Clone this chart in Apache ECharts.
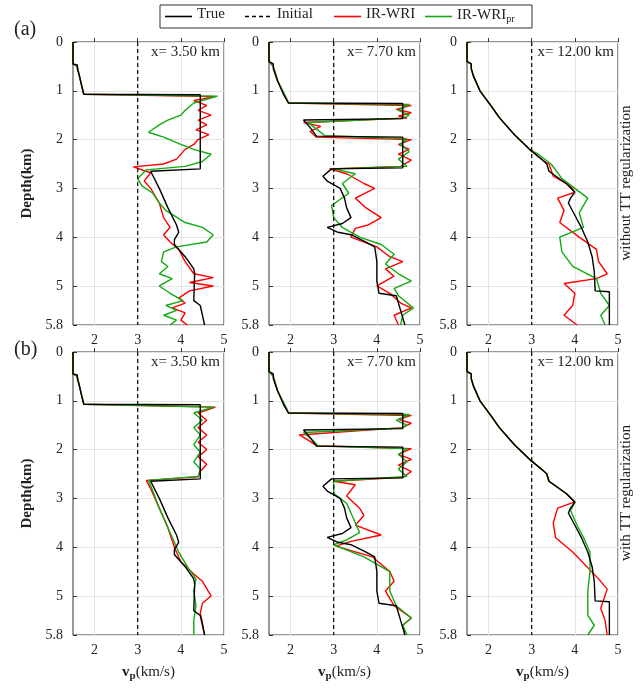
<!DOCTYPE html>
<html lang="en">
<head>
    <meta charset="UTF-8">
    <title>vp profiles</title>
    <script src="https://cdn.jsdelivr.net/npm/echarts@6/dist/echarts.min.js"></script>
</head>
<body style="margin:0;background:#fff">
    <div id="pic1" style="width:640px;height:689px;"></div>
    <script>
        // each profile is a list of [vp (km/s), depth (km)]
        var panelLabels = ['x= 3.50 km', 'x= 7.70 km', 'x= 12.00 km'];
        var vpTicks = [2, 3, 4, 5];
        var initialVp = 3;

        var trueA = [[1.5,0],[1.5,0.45],[1.6,0.47],[1.6,0.55],[1.65,0.7],[1.7,0.9],[1.75,1.07],[4.45,1.08],[4.45,2.6],[3.3,2.65],[3.5,3.0],[3.7,3.4],[3.9,3.75],[3.95,3.9],[3.85,4.05],[3.85,4.15],[4.1,4.4],[4.3,4.65],[4.32,4.75],[4.3,5.3],[4.45,5.4],[4.5,5.6],[4.55,5.8]];
        var trueB = [[1.5,0],[1.5,0.4],[1.6,0.45],[1.6,0.55],[1.7,0.8],[1.85,1.1],[1.95,1.25],[4.6,1.26],[4.6,1.57],[2.3,1.6],[2.45,1.75],[2.6,1.93],[4.6,1.95],[4.6,2.58],[2.95,2.6],[2.75,2.75],[2.85,2.85],[3.15,3.0],[3.25,3.2],[3.3,3.4],[3.4,3.6],[3.2,3.72],[2.85,3.8],[3.1,3.9],[3.4,3.95],[3.75,4.1],[3.95,4.2],[4.0,4.5],[4.0,4.9],[4.05,5.15],[4.45,5.2],[4.55,5.5],[4.65,5.8]];
        var trueC = [[1.5,0],[1.5,0.4],[1.6,0.45],[1.6,0.55],[1.65,0.7],[1.8,1.0],[2.05,1.3],[2.25,1.55],[2.6,1.9],[2.95,2.2],[3.25,2.42],[3.35,2.5],[3.4,2.65],[3.8,2.9],[4.0,3.08],[3.9,3.2],[3.85,3.3],[4.0,3.55],[4.15,3.8],[4.3,4.1],[4.4,4.4],[4.45,4.7],[4.47,5.1],[4.8,5.12],[4.8,5.8]];

        var redTopA = [[1.5,0],[1.5,0.45],[1.6,0.5],[1.65,0.7],[1.75,1.07],[4.8,1.12],[4.3,1.2],[4.6,1.3],[4.4,1.4],[4.7,1.5],[4.4,1.6],[4.6,1.7],[4.35,1.8],[4.65,1.9],[4.4,2.0],[4.3,2.1],[4.1,2.2],[3.9,2.4],[3.6,2.5],[2.9,2.56],[3.3,2.68],[3.15,2.85],[3.3,3.0],[3.5,3.3],[3.6,3.6],[3.75,3.8],[3.6,3.95],[3.75,4.1],[3.95,4.25],[4.1,4.5],[4.3,4.75],[4.75,4.83],[4.2,4.93],[4.75,5.0],[4.2,5.1],[3.95,5.25],[4.1,5.35],[3.8,5.45],[4.1,5.55],[4.0,5.7],[4.15,5.8]];
        var greenTopA = [[1.5,0],[1.5,0.45],[1.6,0.5],[1.65,0.7],[1.75,1.07],[4.85,1.11],[4.3,1.25],[4.1,1.4],[4.0,1.5],[3.7,1.6],[3.5,1.7],[3.25,1.85],[3.6,1.95],[4.0,2.1],[4.3,2.2],[4.7,2.3],[4.5,2.45],[4.1,2.55],[3.2,2.62],[3.0,2.8],[3.1,2.95],[3.35,3.1],[3.5,3.3],[3.65,3.45],[4.1,3.7],[4.5,3.8],[4.75,3.95],[4.6,4.1],[3.9,4.2],[3.6,4.3],[3.55,4.5],[3.7,4.6],[3.5,4.75],[3.8,4.85],[3.5,5.0],[3.75,5.15],[4.05,5.3],[3.65,5.4],[3.9,5.5],[3.6,5.6],[3.9,5.7],[3.75,5.8]];
        var redBotA = [[1.5,0],[1.5,0.45],[1.6,0.5],[1.65,0.7],[1.75,1.07],[4.8,1.13],[4.4,1.25],[4.6,1.4],[4.4,1.55],[4.6,1.7],[4.4,1.85],[4.6,2.0],[4.4,2.15],[4.6,2.3],[4.45,2.45],[4.4,2.56],[3.2,2.63],[3.3,2.8],[3.5,3.2],[3.7,3.6],[3.85,4.0],[4.0,4.3],[4.3,4.55],[4.5,4.7],[4.6,4.85],[4.7,5.0],[4.5,5.15],[4.45,5.35],[4.5,5.55],[4.55,5.8]];
        var greenBotA = [[1.5,0],[1.5,0.45],[1.6,0.5],[1.65,0.7],[1.75,1.07],[4.75,1.13],[4.3,1.25],[4.5,1.4],[4.3,1.55],[4.45,1.7],[4.3,1.9],[4.45,2.05],[4.3,2.25],[4.45,2.4],[4.4,2.55],[3.25,2.63],[3.35,2.85],[3.5,3.2],[3.65,3.5],[3.8,3.8],[3.95,4.1],[4.15,4.4],[4.35,4.65],[4.3,4.9],[4.35,5.2],[4.3,5.5],[4.3,5.8]];

        var redTopB = [[1.5,0],[1.5,0.4],[1.6,0.5],[1.7,0.8],[1.9,1.15],[1.95,1.25],[4.8,1.3],[4.45,1.38],[4.8,1.45],[4.5,1.52],[4.7,1.56],[2.3,1.65],[2.7,1.73],[2.45,1.83],[2.6,1.95],[4.8,2.0],[4.5,2.1],[4.75,2.2],[4.5,2.3],[4.8,2.42],[4.55,2.55],[2.9,2.6],[3.3,2.7],[3.7,2.9],[3.95,3.0],[3.5,3.2],[3.75,3.4],[4.1,3.6],[3.8,3.75],[3.5,3.82],[3.4,4.0],[4.0,4.2],[4.3,4.4],[4.6,4.5],[4.2,4.65],[4.4,4.8],[4.0,5.0],[4.3,5.15],[4.55,5.35],[4.8,5.45],[4.4,5.6],[4.5,5.8]];
        var greenTopB = [[1.5,0],[1.5,0.4],[1.6,0.5],[1.7,0.8],[1.9,1.15],[1.95,1.25],[4.75,1.28],[4.5,1.4],[4.75,1.5],[4.6,1.56],[2.4,1.65],[2.55,1.75],[2.8,1.92],[4.7,1.98],[4.55,2.1],[4.75,2.25],[4.5,2.4],[4.7,2.55],[3.0,2.6],[3.5,2.7],[3.2,2.9],[3.35,3.1],[2.95,3.35],[3.0,3.6],[3.2,3.8],[3.6,4.0],[4.1,4.15],[4.4,4.35],[4.2,4.55],[4.5,4.75],[4.8,4.9],[4.4,5.05],[4.5,5.2],[4.85,5.45],[4.6,5.6],[4.55,5.8]];
        var redBotB = [[1.5,0],[1.5,0.4],[1.6,0.5],[1.7,0.8],[1.9,1.15],[1.95,1.25],[4.8,1.3],[4.5,1.38],[4.8,1.46],[4.6,1.55],[2.2,1.7],[2.4,1.8],[2.6,1.92],[4.8,1.98],[4.5,2.1],[4.8,2.2],[4.5,2.32],[4.8,2.45],[4.6,2.57],[3.0,2.65],[3.5,2.72],[3.3,2.95],[3.6,3.2],[3.7,3.35],[3.5,3.55],[4.1,3.75],[3.4,3.88],[3.05,3.98],[3.9,4.2],[4.3,4.5],[4.4,4.7],[4.2,4.9],[4.4,5.2],[4.8,5.45],[4.6,5.6],[4.65,5.8]];
        var greenBotB = [[1.5,0],[1.5,0.4],[1.6,0.5],[1.7,0.8],[1.9,1.15],[1.95,1.25],[4.75,1.28],[4.45,1.4],[4.7,1.5],[4.55,1.56],[2.3,1.65],[2.5,1.8],[2.65,1.93],[4.7,1.98],[4.5,2.1],[4.7,2.25],[4.5,2.4],[4.7,2.55],[3.0,2.65],[3.0,2.9],[3.3,3.1],[3.5,3.5],[3.6,3.7],[3.3,3.85],[3.0,3.95],[3.7,4.2],[4.3,4.5],[4.3,4.9],[4.45,5.2],[4.8,5.45],[4.6,5.6],[4.7,5.8]];

        var redTopC = [[1.5,0],[1.5,0.4],[1.6,0.45],[1.6,0.55],[1.65,0.7],[1.8,1.0],[2.05,1.3],[2.25,1.55],[2.6,1.9],[2.95,2.2],[3.25,2.42],[3.4,2.5],[3.5,2.75],[3.9,2.95],[4.0,3.08],[3.6,3.2],[3.75,3.45],[3.65,3.7],[4.1,4.0],[4.5,4.25],[4.55,4.5],[4.75,4.75],[4.5,4.85],[3.75,4.95],[4.0,5.15],[3.95,5.4],[3.75,5.6],[4.05,5.8]];
        var greenTopC = [[1.5,0],[1.5,0.4],[1.6,0.45],[1.6,0.55],[1.65,0.7],[1.8,1.0],[2.05,1.3],[2.25,1.55],[2.6,1.9],[2.95,2.2],[3.15,2.3],[3.45,2.5],[3.7,2.8],[4.3,3.2],[4.1,3.5],[4.2,3.8],[3.65,4.0],[3.7,4.3],[3.95,4.6],[4.5,4.85],[4.6,5.15],[4.8,5.4],[4.6,5.6],[4.7,5.8]];
        var redBotC = [[1.5,0],[1.5,0.4],[1.6,0.45],[1.6,0.55],[1.65,0.7],[1.8,1.0],[2.05,1.3],[2.25,1.55],[2.6,1.9],[2.95,2.2],[3.25,2.42],[3.35,2.5],[3.4,2.65],[3.8,2.9],[4.0,3.07],[3.6,3.2],[3.5,3.5],[3.55,3.8],[3.95,4.1],[4.55,4.65],[4.75,4.86],[4.6,5.25],[4.7,5.5],[4.75,5.8]];
        var greenBotC = [[1.5,0],[1.5,0.4],[1.6,0.45],[1.6,0.55],[1.65,0.7],[1.8,1.0],[2.05,1.3],[2.25,1.55],[2.6,1.9],[2.95,2.2],[3.25,2.42],[3.35,2.5],[3.4,2.65],[3.8,2.9],[4.0,3.08],[3.9,3.25],[4.05,3.55],[4.2,3.8],[4.35,4.1],[4.35,4.5],[4.3,4.9],[4.3,5.4],[4.45,5.6],[4.3,5.8]];

        var profiles = [
            [trueA, redTopA, greenTopA], [trueB, redTopB, greenTopB], [trueC, redTopC, greenTopC],
            [trueA, redBotA, greenBotA], [trueB, redBotB, greenBotB], [trueC, redBotC, greenBotC]
        ];

        var serif = 'Liberation Serif';
        var colLeft = [73, 269, 467];
        var rowTop = [42, 352];
        var w = 151, h = 283;
        var colors = ['#000000', '#ff0000', '#11aa11'];

        var grids = [], xAxes = [], yAxes = [], series = [], graphics = [];
        for (var i = 0; i < 6; i++) {
            var r = Math.floor(i / 3), c = i % 3;
            grids.push({left: colLeft[c], top: rowTop[r], width: w, height: h, show: true, borderColor: '#333', borderWidth: 1});
            xAxes.push({type: 'value', gridIndex: i, min: 1.5, max: 5,
                axisLine: {show: false},
                axisTick: {inside: true, length: 4, customValues: vpTicks, lineStyle: {color: '#333'}},
                splitLine: {lineStyle: {color: '#e3e3e3'}},
                axisLabel: {fontFamily: serif, fontSize: 14, color: '#222', margin: 8, customValues: vpTicks},
                name: r === 1 ? '{b|v}{s|p}{n|(km/s)}' : '', nameLocation: 'middle', nameGap: 28,
                nameTextStyle: {rich: {b: {fontFamily: serif, fontSize: 15, fontWeight: 'bold', color: '#222'},
                    s: {fontFamily: serif, fontSize: 11, fontWeight: 'bold', color: '#222', verticalAlign: 'bottom', padding: [8, 0, 0, 0]},
                    n: {fontFamily: serif, fontSize: 15, color: '#222'}}}});
            yAxes.push({type: 'value', gridIndex: i, min: 0, max: 5.8, interval: 1, inverse: true,
                axisLine: {show: false}, axisTick: {inside: true, length: 4, lineStyle: {color: '#333'}},
                splitLine: {lineStyle: {color: '#e3e3e3'}},
                axisLabel: {fontFamily: serif, fontSize: 14, color: '#222', margin: 10},
                name: c === 0 ? 'Depth(km)' : '', nameLocation: 'middle', nameGap: 38,
                nameTextStyle: {fontFamily: serif, fontSize: 15, fontWeight: 'bold', color: '#222'}});
            var p = profiles[i];
            var names = ['True', 'IR-WRI', 'IR-WRI_pr'];
            for (var k = 0; k < 3; k++) {
                series.push({name: names[k], type: 'line', xAxisIndex: i, yAxisIndex: i, data: p[k],
                    showSymbol: false, animation: false, z: k === 0 ? 3 : 2,
                    lineStyle: {color: colors[k], width: 1.4}, itemStyle: {color: colors[k]}});
            }
            series.push({name: 'Initial', type: 'line', xAxisIndex: i, yAxisIndex: i,
                data: [[initialVp, 0], [initialVp, 5.8]], showSymbol: false, animation: false,
                lineStyle: {color: '#000', width: 1.2, type: [4, 3]}, itemStyle: {color: '#000'}});
            graphics.push({type: 'text', right: 640 - colLeft[c] - w + 4, top: rowTop[r] + 3,
                style: {text: panelLabels[c], font: '15px "Liberation Serif"', fill: '#222'}});
        }

        // legend box drawn by hand (dashed entry for Initial)
        var legendItems = [['True', 165, 0, null], ['Initial', 245, 0, [4, 3]], ['IR-WRI', 334, 1, null], ['IR-WRI', 425, 2, null]];
        graphics.push({type: 'rect', shape: {x: 160, y: 5, width: 372, height: 23},
            style: {fill: '#fff', stroke: '#333', lineWidth: 1}, z: 10});
        legendItems.forEach(function (it, j) {
            graphics.push({type: 'line', shape: {x1: it[1], y1: 16.5, x2: it[1] + 27, y2: 16.5}, z: 11,
                style: {stroke: colors[it[2]], lineWidth: 1.6, lineDash: it[3]}});
            graphics.push({type: 'text', x: it[1] + 32, y: 7, z: 11,
                style: {text: j === 3 ? 'IR-WRI{s|pr}' : it[0], font: '15px "Liberation Serif"', fill: '#222',
                    rich: {s: {fontFamily: serif, fontSize: 10, padding: [7, 0, 0, 0]}}}});
        });

        graphics.push({type: 'text', left: 14, top: 20, style: {text: '(a)', font: '20px "Liberation Serif"', fill: '#222'}});
        graphics.push({type: 'text', left: 14, top: 340, style: {text: '(b)', font: '20px "Liberation Serif"', fill: '#222'}});
        graphics.push({type: 'text', x: 626, y: 183, rotation: Math.PI / 2,
            style: {text: 'without TT regularization', font: '15px "Liberation Serif"', fill: '#222', align: 'center', verticalAlign: 'middle'}});
        graphics.push({type: 'text', x: 626, y: 493, rotation: Math.PI / 2,
            style: {text: 'with TT regularization', font: '15px "Liberation Serif"', fill: '#222', align: 'center', verticalAlign: 'middle'}});

        var myChart = echarts.init(document.getElementById('pic1'));
        myChart.setOption({
            backgroundColor: '#fff',
            animation: false,
            grid: grids, xAxis: xAxes, yAxis: yAxes, series: series, graphic: graphics
        });
    </script>
</body>
</html>
